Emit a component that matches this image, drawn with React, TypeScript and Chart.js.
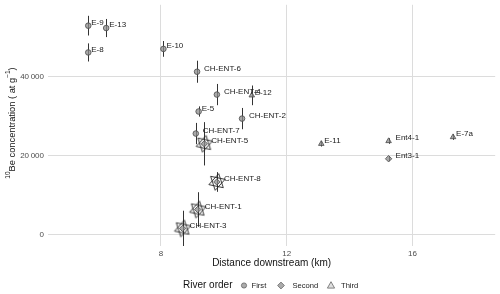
import React, { useEffect, useRef } from 'react';
import { Chart, registerables } from 'chart.js';

Chart.register(...registerables);

// ---- data ----
const samples = ['E-9', 'E-13', 'E-8', 'E-10', 'CH-ENT-6', 'CH-ENT-4', 'E-12', 'E-5', 'CH-ENT-2', 'CH-ENT-7', 'CH-ENT-5', 'CH-ENT-8', 'CH-ENT-1', 'CH-ENT-3', 'E-11', 'Ent4-1', 'Ent3-1', 'E-7a'];
const distanceKm = [5.69, 6.26, 5.69, 8.08, 9.15, 9.78, 10.89, 9.2, 10.58, 9.11, 9.38, 9.78, 9.17, 8.69, 13.1, 15.24, 15.24, 17.29];
const concentration = [53000, 52400, 46200, 47100, 41300, 35500, 35300, 31200, 29400, 25600, 23000, 13300, 6300, 1500, 23000, 23700, 19200, 24700];
const uncertainty = [2500, 2300, 2300, 2000, 2800, 2700, 2500, 1300, 2700, 2700, 5500, 2500, 4400, 4500, 700, 700, 600, 700];
const riverOrder = ['First', 'First', 'First', 'First', 'First', 'First', 'Third', 'First', 'First', 'First', 'Second', 'Second', 'Second', 'Second', 'Third', 'Third', 'Second', 'Third'];
const starred = [false, false, false, false, false, false, false, false, false, false, true, true, true, true, false, false, false, false];
const orderNames = ['First', 'Second', 'Third'];
const orderStyles = ['circle', 'rectRot', 'triangle'];
const xTicks = [8, 12, 16];
const yTicks = [0, 20000, 40000];

const FONT = '"Liberation Sans", Arial, sans-serif';
const MARK_FILL = 'rgba(140,140,140,0.75)';
const MARK_EDGE = '#4a4a4a';

const fmt = (v: number) => {
  const s = String(Math.round(v));
  return s.length > 3 ? s.slice(0, s.length - 3) + '\u2009' + s.slice(s.length - 3) : s;
};

// six-pointed star glyph used as a point style
function makeStar(): HTMLCanvasElement {
  const c = document.createElement('canvas');
  c.width = 22;
  c.height = 22;
  const g = c.getContext('2d')!;
  g.strokeStyle = '#222222';
  g.lineWidth = 0.9;
  const r = 8.5;
  [12, 192].forEach((deg) => {
    let a = (deg * Math.PI) / 180;
    g.beginPath();
    for (let k = 0; k < 3; k++) {
      const px = 11 + Math.sin(a) * r;
      const py = 11 - Math.cos(a) * r;
      if (k === 0) g.moveTo(px, py);
      else g.lineTo(px, py);
      a += (2 * Math.PI) / 3;
    }
    g.closePath();
    g.stroke();
  });
  return c;
}

const overlayPlugin = {
  id: 'overlay',
  beforeDatasetsDraw(chart: any) {
    const { ctx, scales, chartArea } = chart;
    const xs = scales.x, ys = scales.y;
    ctx.save();
    ctx.beginPath();
    ctx.rect(chartArea.left, chartArea.top, chartArea.right - chartArea.left, chartArea.bottom - chartArea.top);
    ctx.clip();
    ctx.strokeStyle = '#333333';
    ctx.lineWidth = 1;
    for (let i = 0; i < samples.length; i++) {
      const x = Math.round(xs.getPixelForValue(distanceKm[i])) + 0.5;
      const y1 = ys.getPixelForValue(concentration[i] - uncertainty[i]);
      const y2 = ys.getPixelForValue(concentration[i] + uncertainty[i]);
      ctx.beginPath();
      ctx.moveTo(x, y1);
      ctx.lineTo(x, y2);
      ctx.stroke();
    }
    ctx.restore();
  },
  afterDatasetsDraw(chart: any) {
    const { ctx, scales } = chart;
    const xs = scales.x, ys = scales.y;
    ctx.save();
    ctx.font = `8px ${FONT}`;
    ctx.fillStyle = '#1a1a1a';
    ctx.textAlign = 'left';
    ctx.textBaseline = 'middle';
    for (let i = 0; i < samples.length; i++) {
      const x = xs.getPixelForValue(distanceKm[i]);
      const y = ys.getPixelForValue(concentration[i]);
      const dx = samples[i].startsWith('E-') ? 3 : 7;
      ctx.fillText(samples[i], x + dx, y - 3);
    }
    ctx.restore();
  },
  afterDraw(chart: any) {
    const { ctx, chartArea } = chart;
    ctx.save();
    // x-axis title
    ctx.fillStyle = '#111111';
    ctx.font = `10px ${FONT}`;
    ctx.textAlign = 'center';
    ctx.textBaseline = 'middle';
    ctx.fillText('Distance downstream (km)', (chartArea.left + chartArea.right) / 2, 263);

    // y-axis title with superscripts
    ctx.save();
    ctx.translate(12, 123);
    ctx.rotate(-Math.PI / 2);
    const parts = [
      { t: '10', sup: true },
      { t: 'Be concentration ( at g', sup: false },
      { t: '\u22121', sup: true },
      { t: ')', sup: false },
    ];
    const fontFor = (sup: boolean) => (sup ? `6.5px ${FONT}` : `9.3px ${FONT}`);
    let total = 0;
    for (const p of parts) {
      ctx.font = fontFor(p.sup);
      total += ctx.measureText(p.t).width;
    }
    let cx = -total / 2;
    ctx.textAlign = 'left';
    for (const p of parts) {
      ctx.font = fontFor(p.sup);
      ctx.fillText(p.t, cx, p.sup ? -4 : 0);
      cx += ctx.measureText(p.t).width;
    }
    ctx.restore();

    // legend
    const ly = 285.5;
    ctx.textAlign = 'left';
    ctx.textBaseline = 'middle';
    ctx.font = `10px ${FONT}`;
    ctx.fillStyle = '#111111';
    ctx.fillText('River order', 183, ly);
    const items = [
      { x: 244, tx: 251.5 },
      { x: 281, tx: 292.5 },
      { x: 331, tx: 341 },
    ];
    ctx.font = `7.6px ${FONT}`;
    items.forEach((it, k) => {
      ctx.fillStyle = k === 2 ? 'rgba(200,200,200,0.6)' : 'rgba(150,150,150,0.8)';
      ctx.strokeStyle = '#666666';
      ctx.lineWidth = 0.8;
      ctx.beginPath();
      if (k === 0) {
        ctx.arc(it.x, ly, 2.6, 0, Math.PI * 2);
      } else if (k === 1) {
        ctx.moveTo(it.x, ly - 3.4);
        ctx.lineTo(it.x + 3.4, ly);
        ctx.lineTo(it.x, ly + 3.4);
        ctx.lineTo(it.x - 3.4, ly);
        ctx.closePath();
      } else {
        ctx.moveTo(it.x, ly - 3.8);
        ctx.lineTo(it.x + 3.6, ly + 2.6);
        ctx.lineTo(it.x - 3.6, ly + 2.6);
        ctx.closePath();
      }
      ctx.fill();
      ctx.stroke();
      ctx.fillStyle = '#222222';
      ctx.fillText(orderNames[k], it.tx, ly);
    });
    ctx.restore();
  },
};

export default function App() {
  const canvasRef = useRef<HTMLCanvasElement | null>(null);

  useEffect(() => {
    document.body.style.margin = '0';
    const canvas = canvasRef.current;
    if (!canvas) return;

    const orderDatasets = orderNames.map((name, k) => ({
      label: name,
      data: samples
        .map((_, i) => i)
        .filter((i) => riverOrder[i] === name)
        .map((i) => ({ x: distanceKm[i], y: concentration[i] })),
      pointStyle: orderStyles[k],
      pointRadius: k === 2 ? 3.2 : k === 1 ? 3.2 : 2.8,
      pointBackgroundColor: MARK_FILL,
      pointBorderColor: MARK_EDGE,
      pointBorderWidth: 0.8,
      showLine: false,
    }));
    const starDataset = {
      label: 'highlight',
      data: samples
        .map((_, i) => i)
        .filter((i) => starred[i])
        .map((i) => ({ x: distanceKm[i], y: concentration[i] })),
      pointStyle: makeStar(),
      pointRadius: 1,
      pointBorderWidth: 0,
      showLine: false,
    };

    const chart = new Chart(canvas, {
      type: 'scatter',
      data: { datasets: [...orderDatasets, starDataset] as any },
      options: {
        animation: false,
        responsive: false,
        devicePixelRatio: 1,
        layout: { padding: { top: 4, right: 4, bottom: 22, left: 0 } },
        plugins: { legend: { display: false }, tooltip: { enabled: false } },
        scales: {
          x: {
            type: 'linear',
            min: 4.41,
            max: 18.63,
            afterBuildTicks: (s: any) => {
              s.ticks = xTicks.map((v) => ({ value: v }));
            },
            afterFit: (s: any) => {
              s.height = 26;
              s.paddingLeft = 0;
              s.paddingRight = 0;
            },
            grid: { color: '#dcdcdc', lineWidth: 1, drawTicks: false },
            border: { display: false },
            ticks: {
              padding: 3,
              color: '#4d4d4d',
              font: { family: FONT, size: 8 },
              callback: (v: any) => String(v),
            },
          },
          y: {
            type: 'linear',
            min: -2960,
            max: 58300,
            afterBuildTicks: (s: any) => {
              s.ticks = yTicks.map((v) => ({ value: v }));
            },
            afterFit: (s: any) => {
              s.width = 48;
              s.paddingTop = 0;
              s.paddingBottom = 0;
            },
            grid: { color: '#dcdcdc', lineWidth: 1, drawTicks: false },
            border: { display: false },
            ticks: {
              padding: 4,
              color: '#4d4d4d',
              font: { family: FONT, size: 8 },
              callback: (v: any) => fmt(Number(v)),
            },
          },
        },
      },
      plugins: [overlayPlugin],
    });

    return () => chart.destroy();
  }, []);

  return (
    <div style={{ width: 500, height: 294, background: '#ffffff' }}>
      <canvas ref={canvasRef} width={500} height={294} />
    </div>
  );
}
